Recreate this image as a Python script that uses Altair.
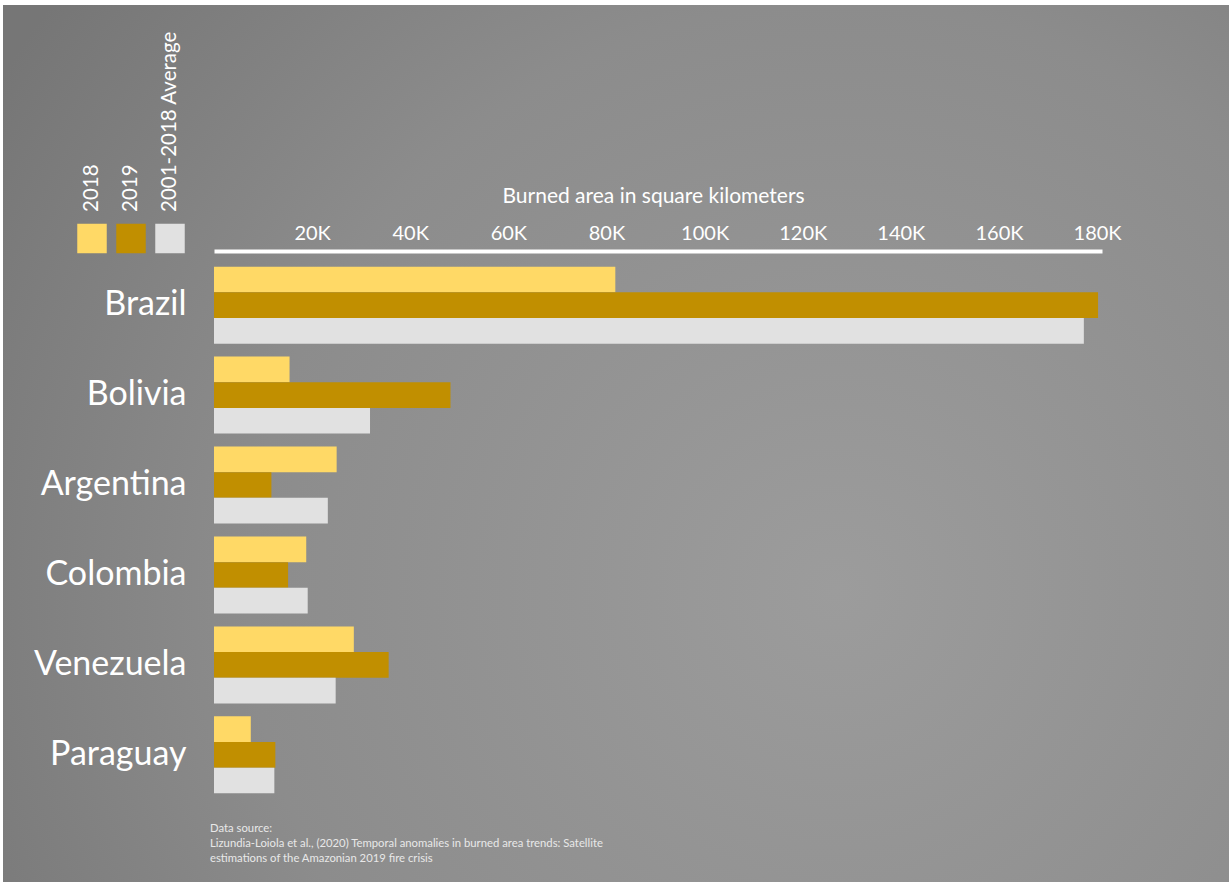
import altair as alt
import pandas as pd

countries = ["Brazil", "Bolivia", "Argentina", "Colombia", "Venezuela", "Paraguay"]
series = ["2018", "2019", "2001-2018 Average"]
v2018 = [81800, 15400, 25000, 18800, 28500, 7500]
v2019 = [180200, 48200, 11700, 15100, 35600, 12500]
vavg = [177300, 31800, 23200, 19100, 24800, 12300]
colors = ["#ffd966", "#c18f00", "#e1e1e1"]
tick_values = [20000, 40000, 60000, 80000, 100000, 120000, 140000, 160000, 180000]
source_lines = [
    "Data source:",
    "Lizundia-Loiola et al., (2020) Temporal anomalies in burned area trends: Satellite",
    "estimations of the Amazonian 2019 fire crisis",
]

rows = []
for i, c in enumerate(countries):
    for s, vals in zip(series, [v2018, v2019, vavg]):
        rows.append({"country": c, "series": s, "value": vals[i]})
df = pd.DataFrame(rows)
leg_df = pd.DataFrame({"series": series})

FONT = "Lato"
color_scale = alt.Scale(domain=series, range=colors)

bg = alt.Chart(pd.DataFrame({"k": [0]})).mark_rect(
    fill=alt.RadialGradient(
        gradient="radial",
        stops=[alt.GradientStop(offset=0, color="#9c9c9c"),
               alt.GradientStop(offset=0.6, color="#8c8c8c"),
               alt.GradientStop(offset=1, color="#767676")],
        x1=0.68, y1=0.62, r1=0, x2=0.68, y2=0.62, r2=0.8,
    ),
    stroke=None,
).encode(x=alt.value(-211), x2=alt.value(1015), y=alt.value(-246), y2=alt.value(631))

bars = alt.Chart(df).mark_bar().encode(
    y=alt.Y("country:N", sort=countries,
            scale=alt.Scale(paddingInner=0.144, paddingOuter=0.174),
            axis=alt.Axis(title=None, ticks=False, domain=False, labelColor="white",
                          labelFontSize=34, labelFont=FONT, labelPadding=28, labelLimit=400,
                          zindex=2)),
    yOffset=alt.YOffset("series:N", sort=series, scale=alt.Scale(paddingInner=0, paddingOuter=0)),
    x=alt.X("value:Q", scale=alt.Scale(domain=[0, 181000], nice=False, zero=True),
            axis=alt.Axis(orient="top", values=tick_values,
                          labelExpr="datum.value/1000 + 'K'",
                          ticks=False, grid=False, domainColor="white", domainWidth=4,
                          labelColor="white", labelFontSize=20, labelFont=FONT,
                          labelPadding=8, labelOverlap=False, labelFlush=False,
                          title="Burned area in square kilometers", titleColor="white",
                          titleFontSize=21, titleFont=FONT, titleFontWeight="normal",
                          titlePadding=17, titleX=439, titleAlign="center", zindex=2)),
    color=alt.Color("series:N", scale=color_scale, legend=None),
)

leg_x = alt.X("series:N", sort=series,
              scale=alt.Scale(type="point", range=[-122, -44], padding=0), axis=None)

leg_sq = alt.Chart(leg_df).mark_square(size=870, filled=True, opacity=1).encode(
    x=leg_x,
    y=alt.value(-12.5),
    color=alt.Color("series:N", scale=color_scale, legend=None),
)

leg_txt = alt.Chart(leg_df).mark_text(
    angle=270, align="left", baseline="middle", fontSize=20.5, font=FONT, color="white", dx=-2
).encode(x=leg_x, y=alt.value(-41), text="series:N")

src = alt.Chart(pd.DataFrame({"k": [0]})).mark_text(
    text=source_lines, align="left", baseline="top", fontSize=11.3, font=FONT,
    color="#e8e8e8", lineHeight=15,
).encode(x=alt.value(-4), y=alt.value(572))

chart = alt.layer(bg, bars, leg_sq, leg_txt, src).resolve_scale(
    x="independent"
).properties(
    width=888, height=558,
    padding={"left": 3, "top": 5, "right": 0, "bottom": 0},
    background="white",
).configure_view(stroke=None)

chart.save("out.html", embed_options={"renderer": "svg", "actions": False})
